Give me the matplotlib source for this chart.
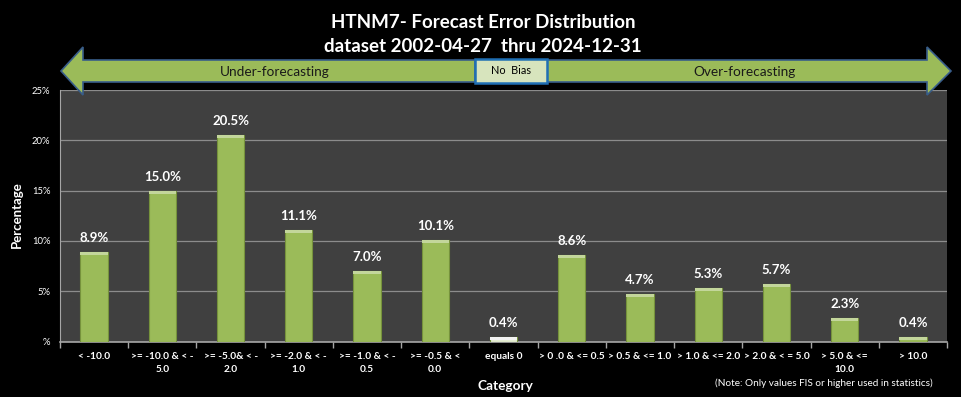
import numpy as np
import matplotlib
matplotlib.use("Agg")
import matplotlib.pyplot as plt
from matplotlib.patches import Polygon, Rectangle

# ------------------------------------------------------------
# data
# ------------------------------------------------------------
categories = [
    "< -10.0", ">= -10.0 & < -\n5.0", ">= -5.0& < -\n2.0", ">= -2.0 & < -\n1.0",
    ">= -1.0 & < -\n0.5", ">= -0.5 & <\n0.0", "equals 0", "> 0 .0 & <= 0.5",
    "> 0.5 & <= 1.0", "> 1.0 & <= 2.0", "> 2.0 & < = 5.0", "> 5.0 & <=\n10.0",
    "> 10.0",
]
values = [8.9, 15.0, 20.5, 11.1, 7.0, 10.1, 0.4, 8.6, 4.7, 5.3, 5.7, 2.3, 0.4]
y_ticks = [0, 5, 10, 15, 20, 25]
y_tick_labels = ["%", "5%", "10%", "15%", "20%", "25%"]

FONT = ["Lato", "DejaVu Sans"]
plt.rcParams["font.family"] = FONT

W, H = 961, 397
fig = plt.figure(figsize=(W / 100, H / 100), dpi=100, facecolor="black")


def px(x, y):
    return (x / W, 1 - y / H)


ax = fig.add_axes([60 / W, 1 - 341.5 / H, (947 - 60) / W, (341.5 - 90) / H])
ax.set_facecolor("#404040")

x = np.arange(len(values))
colors = ["#e4ecd2" if c == "equals 0" else "#9bbb59" for c in categories]
ax.bar(x, values, width=0.4, color=colors, edgecolor="#76923c", linewidth=0.8, zorder=3)
# light bevel on top of each bar
cap = 0.3
ax.bar(x, [min(cap, v) for v in values], bottom=[v - min(cap, v) for v in values],
       width=0.4, color=["#f2f2f2" if c == "equals 0" else "#c3d69b" for c in categories],
       linewidth=0, zorder=4)

for xi, v in zip(x, values):
    ax.text(xi, v + 0.8, f"{v:.1f}%", ha="center", va="bottom", color="white",
            fontsize=9.5, fontweight="bold", zorder=5)

ax.set_xlim(-0.5, len(values) - 0.5)
ax.set_ylim(0, 25)
ax.set_yticks(y_ticks)
ax.set_yticklabels(y_tick_labels, color="white", fontsize=6.8)
ax.tick_params(axis="y", length=0, pad=7)
ax.yaxis.grid(True, color="#8c8c8c", linewidth=0.9, zorder=1)
ax.set_axisbelow(True)

ax.set_xticks(x)
ax.set_xticklabels(categories, color="white", fontsize=7.3, fontweight="bold",
                   linespacing=1.55)
ax.tick_params(axis="x", length=0, pad=7.5)
ax.set_xticks(np.arange(len(values) + 1) - 0.5, minor=True)
ax.tick_params(axis="x", which="minor", length=4, color="#a6a6a6", width=1)

for s in ["top", "right"]:
    ax.spines[s].set_visible(False)
ax.spines["left"].set_color("#a6a6a6")
ax.spines["bottom"].set_color("#a6a6a6")
ax.spines["bottom"].set_linewidth(1.2)

fig.text(*px(17, 215), "Percentage", rotation=90, ha="center", va="center",
         color="white", fontsize=9.5, fontweight="bold")
fig.text(*px(505, 386), "Category", ha="center", va="center",
         color="white", fontsize=9.8, fontweight="bold")
fig.text(*px(824, 383), "(Note: Only values FIS or higher used in statistics)",
         ha="center", va="center", color="white", fontsize=7.2)

# title
fig.text(*px(483, 22), "HTNM7- Forecast Error Distribution", ha="center", va="center",
         color="white", fontsize=13.5, fontweight="bold")
fig.text(*px(483, 46), "dataset 2002-04-27  thru 2024-12-31", ha="center", va="center",
         color="white", fontsize=13.5, fontweight="bold")

# bias arrows
left_arrow = [(61, 71), (83, 47), (83, 60), (475, 60), (475, 82), (83, 82), (83, 95)]
right_arrow = [(951, 71), (927, 47), (927, 60), (547, 60), (547, 82), (927, 82), (927, 95)]
for pts in (left_arrow, right_arrow):
    fig.patches.append(Polygon([px(a, b) for a, b in pts], closed=True,
                               transform=fig.transFigure, facecolor="#9bbb59",
                               edgecolor="#385d8a", linewidth=1.2, zorder=10))
bx0, by0 = px(475, 83)
bx1, by1 = px(547, 59)
fig.patches.append(Rectangle((bx0, by0), bx1 - bx0, by1 - by0, transform=fig.transFigure,
                             facecolor="#d7e4bd", edgecolor="#1f6fb4", linewidth=1.8,
                             zorder=11))
fig.text(*px(511, 71), "No  Bias", ha="center", va="center", color="black",
         fontsize=7.8, zorder=12)
fig.text(*px(275, 72), "Under-forecasting", ha="center", va="center", color="#1a1a1a",
         fontsize=9.8, zorder=12)
fig.text(*px(745, 72), "Over-forecasting", ha="center", va="center", color="#1a1a1a",
         fontsize=9.8, zorder=12)

fig.savefig("out.png", dpi=100, facecolor="black")
